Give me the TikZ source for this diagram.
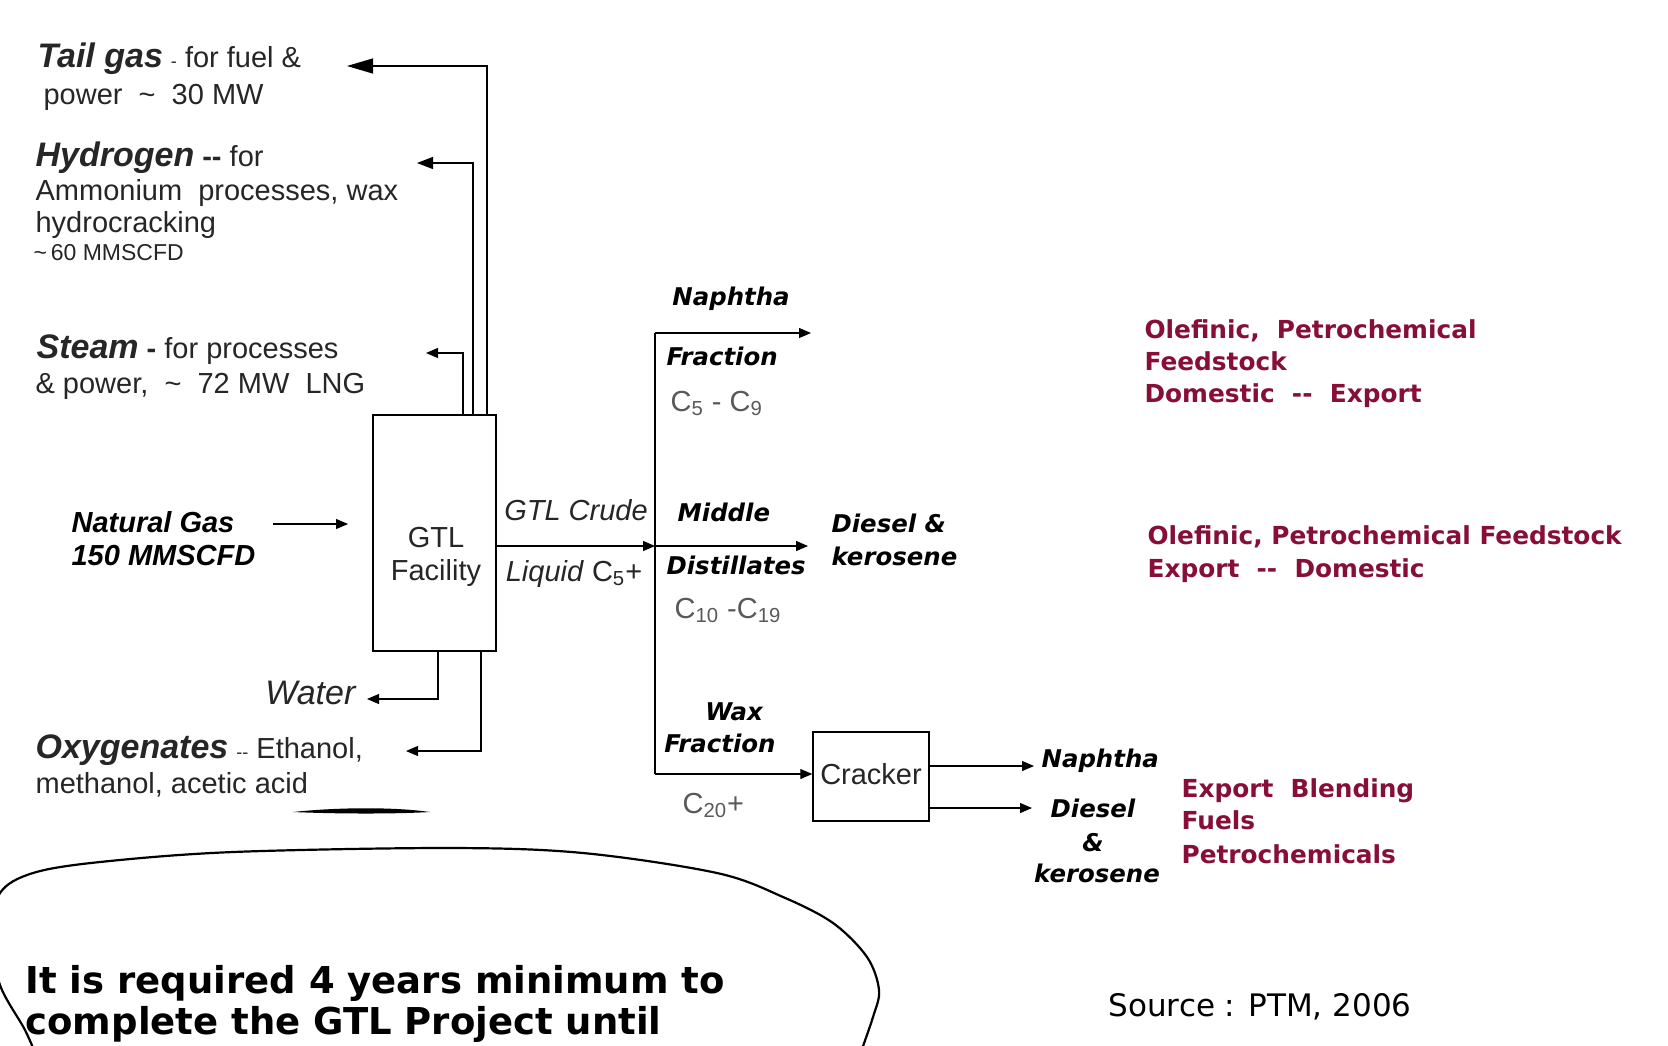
\documentclass[tikz,border=0pt]{standalone}
\usepackage{fontspec}
\setmainfont{Liberation Sans}
\newfontfamily\verdana{DejaVu Sans}
\usetikzlibrary{arrows.meta}
\definecolor{wine}{RGB}{135,15,55}
\newcommand{\hd}[1]{{\fontsize{17}{20}\selectfont\bfseries\itshape #1}}

\begin{document}
\begin{tikzpicture}[x=0.5pt, y=-0.5pt, line width=0.6pt,
    flow/.style={-{Triangle[length=6pt,width=5pt]}},
    midflow/.style={-{Triangle[length=8pt,width=6pt]}},
    bigflow/.style={-{Triangle[length=13pt,width=7.5pt]}},
    txt/.style={inner sep=0pt, anchor=base west, font=\fontsize{14.5}{17}\selectfont, text=black!85},
    boldit/.style={inner sep=0pt, anchor=base west, font=\fontsize{14.5}{17}\selectfont\bfseries\itshape},
    vbi/.style={inner sep=0pt, anchor=base west, font=\verdana\fontsize{12.2}{14}\selectfont\bfseries\itshape},
    carbon/.style={inner sep=0pt, anchor=base west, font=\fontsize{14.5}{17}\selectfont, text=black!65},
    outlbl/.style={inner sep=0pt, anchor=base west, font=\verdana\fontsize{12.4}{14}\selectfont\bfseries, text=wine},
    unit/.style={draw, inner sep=0pt, line width=0.75pt, font=\fontsize{14.5}{16.5}\selectfont, text=black!85}]
    \path[fill=white, use as bounding box] (0,0) rectangle (1668,1045);

    \node[unit, minimum width=61.5pt, minimum height=118pt] (gtl) at (434.5,533) {};
    \node[unit, draw=none, align=center] (gtlname) at (436,557) {GTL\\Facility};
    \node[unit, minimum width=58pt, minimum height=44.5pt] (cracker) at (871,776.5) {\raisebox{3pt}{Cracker}};

    % left side streams
    \node[txt] (tail1) at (37,67) {\hd{Tail gas} {\small -} for fuel \&};
    \node[txt] (tail2) at (43,104) {power\ \ \textasciitilde\ \ 30 MW};
    \node[txt] (hyd1) at (35,166) {\hd{Hydrogen} \textbf{-{}-} for};
    \node[txt] (hyd2) at (35,200) {Ammonium\ \ processes, wax};
    \node[txt] (hyd3) at (35,232) {hydrocracking};
    \node[txt, font=\fontsize{11.5}{13}\selectfont] (hyd4) at (33,260) {\textasciitilde\,60 MMSCFD};
    \node[txt] (steam1) at (36,358) {\hd{Steam} \textbf{-} for processes};
    \node[txt] (steam2) at (35,393) {\& power,\ \ \textasciitilde\ \ 72 MW\ \ LNG};
    \node[boldit] (ng1) at (71,532) {Natural Gas};
    \node[boldit] (ng2) at (71,565) {150 MMSCFD};
    \node[txt, anchor=base east, font=\fontsize{17}{20}\selectfont\itshape] (water) at (356,704) {Water};
    \node[txt] (oxy1) at (35,758) {\hd{Oxygenates} {\small -{}-} Ethanol,};
    \node[txt] (oxy2) at (35,793) {methanol, acetic acid};

    \coordinate (tgbend) at (487,66);
    \coordinate (tgtip) at (347,66);
    \coordinate (hbend) at (473,163);
    \coordinate (htip) at (417,163);
    \coordinate (sbend) at (463,353);
    \coordinate (stip) at (426,353);
    \coordinate (wbend) at (438,699);
    \coordinate (wtip) at (367,699);
    \coordinate (obend) at (481,751);
    \coordinate (otip) at (406,751);
    \coordinate (ngtail) at (273,524);
    \coordinate (ngtip) at (348,524);
    \draw[bigflow] (gtl.north -| tgbend) -- (tgbend) -- (tgtip);
    \draw[midflow] (gtl.north -| hbend) -- (hbend) -- (htip);
    \draw[flow] (gtl.north -| sbend) -- (sbend) -- (stip);
    \draw[flow] (gtl.south -| wbend) -- (wbend) -- (wtip);
    \draw[flow] (gtl.south -| obend) -- (obend) -- (otip);
    \draw[flow] (ngtail) -- (ngtip);

    % product split
    \node[txt, anchor=base, font=\fontsize{14.5}{17}\selectfont\itshape] (crude) at (576,520) {GTL Crude};
    \node[txt, anchor=base] (liquid) at (574,581) {\textit{Liquid} C\textsubscript{5}+};
    \coordinate (split) at (655,546);
    \coordinate (naptop) at (655,333);
    \coordinate (waxbot) at (655,774);
    \coordinate (naptip) at (811,333);
    \coordinate (midtip) at (808,546);
    \draw[flow] (gtl.east |- split) -- (split);
    \draw (naptop) -- (waxbot);
    \draw[flow] (naptop) -- (naptip);
    \draw[flow] (split) -- (midtip);
    \draw[flow] (waxbot) -- (cracker.west |- waxbot);

    \node[vbi, anchor=base] (nap) at (731,305) {Naphtha};
    \node[vbi] (frac1) at (666,365) {Fraction};
    \node[carbon] (c5) at (670,411) {C\textsubscript{5} - C\textsubscript{9}};
    \node[vbi] (middle) at (677,521) {Middle};
    \node[vbi] (dist) at (666,574) {Distillates};
    \node[carbon] (c10) at (674,618) {C\textsubscript{10} -C\textsubscript{19}};
    \node[vbi] (dies1) at (831,532) {Diesel \&};
    \node[vbi] (kero1) at (831,565) {kerosene};
    \node[vbi, anchor=base] (wax) at (734,720) {Wax};
    \node[vbi, anchor=base] (frac2) at (720,752) {Fraction};
    \node[carbon] (c20) at (682,813) {C\textsubscript{20}+};

    \coordinate (crnap) at (1034,766);
    \coordinate (crdies) at (1032,808);
    \draw[flow] (cracker.east |- crnap) -- (crnap);
    \draw[flow] (cracker.east |- crdies) -- (crdies);
    \node[vbi] (nap2) at (1041,767) {Naphtha};
    \node[vbi, anchor=base] (dies2) at (1093,817) {Diesel};
    \node[vbi, anchor=base] (amp2) at (1093,851) {\&};
    \node[vbi, anchor=base] (kero2) at (1097,882) {kerosene};

    % markets
    \node[outlbl] (mk1a) at (1144,338) {Olefinic,\ \ Petrochemical};
    \node[outlbl] (mk1b) at (1144,370) {Feedstock};
    \node[outlbl] (mk1c) at (1144,402) {Domestic\ \ -{}-\ \ Export};
    \node[outlbl] (mk2a) at (1147,544) {Olefinic, Petrochemical Feedstock};
    \node[outlbl] (mk2b) at (1147,577) {Export\ \ --\ \ Domestic};
    \node[outlbl] (mk3a) at (1181,797) {Export\ \ Blending};
    \node[outlbl] (mk3b) at (1181,829) {Fuels};
    \node[outlbl] (mk3c) at (1181,863) {Petrochemicals};

    \node[txt, font=\verdana\fontsize{15.5}{18}\selectfont, text=black] (source) at (1108,1016) {Source : PTM, 2006};

    % note
    \fill (293,812) .. controls (340,807) and (395,807) .. (430,812) .. controls (395,814) and (340,814) .. (293,812) -- cycle;
    \draw[line width=1.1pt] plot[smooth, tension=0.55] coordinates {(38,1060) (25,1030) (0,985) (-8,935) (0,893) (33,873) (100,862) (233,852) (450,848) (583,853) (717,873) (783,897) (833,923) (867,957) (879,990) (873,1017) (858,1060)};
    \node[txt, font=\verdana\fontsize{18.5}{21.5}\selectfont\bfseries, text=black] (note1) at (25,993) {It is required 4 years minimum to};
    \node[txt, font=\verdana\fontsize{18.5}{21.5}\selectfont\bfseries, text=black] (note2) at (25,1034) {complete the GTL Project until};
\end{tikzpicture}
\end{document}
